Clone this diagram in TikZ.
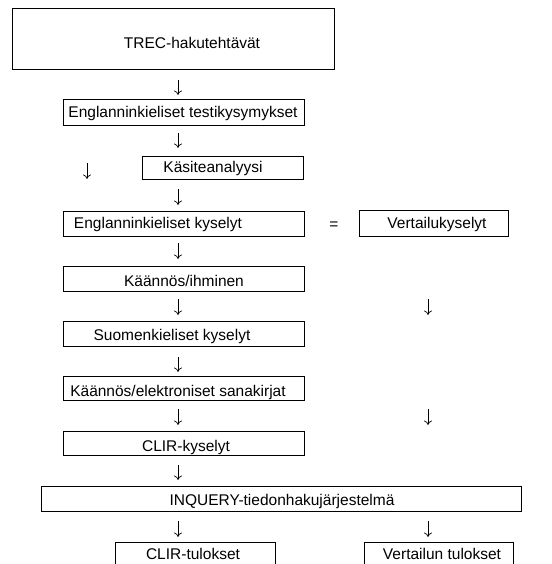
\documentclass[tikz,border=0pt]{standalone}
\usepackage{fontspec}
\setmainfont{Liberation Sans}
\usetikzlibrary{arrows.meta}
\begin{document}
\begin{tikzpicture}[x=1pt,y=-1pt,
  box/.style={draw,line width=0.7pt,inner sep=0pt},
  txt/.style={font=\fontsize{15.5}{17}\selectfont,inner sep=0pt},
  darr/.style={-{To[length=4.5pt,width=8pt]},line width=0.7pt}]
\useasboundingbox (0,0) rectangle (551,564);
\clip (0,0) rectangle (551,564);
% boxes
\node[box,minimum width=322pt,minimum height=61pt] (b1) at (173,38.5) {};
\node[txt] (t1) at (192,43) {TREC-hakutehtävät};
\node[box,minimum width=241pt,minimum height=26pt] (b2) at (183.5,112) {};
\node[txt] (t2) at (183,113) {Englanninkieliset testikysymykset};
\node[box,minimum width=161pt,minimum height=23pt] (b3) at (222.5,167.5) {};
\node[txt] (t3) at (213,168) {Käsiteanalyysi};
\node[box,minimum width=241pt,minimum height=25pt] (b4) at (183.5,223.5) {};
\node[txt] (t4) at (158,224) {Englanninkieliset kyselyt};
\node[box,minimum width=149pt,minimum height=26pt] (b5) at (433.5,223) {};
\node[txt] (t5) at (437,224) {Vertailukyselyt};
\node[box,minimum width=241pt,minimum height=25pt] (b6) at (183.5,278.5) {};
\node[txt] (t6) at (184,281) {Käännös/ihminen};
\node[box,minimum width=241pt,minimum height=25pt] (b7) at (183.5,333.5) {};
\node[txt] (t7) at (172,336) {Suomenkieliset kyselyt};
\node[box,minimum width=241pt,minimum height=24pt] (b8) at (183.5,388) {};
\node[txt] (t8) at (178,392) {Käännös/elektroniset sanakirjat};
\node[box,minimum width=241pt,minimum height=24pt] (b9) at (183.5,443) {};
\node[txt] (t9) at (186,447) {CLIR-kyselyt};
\node[box,minimum width=480pt,minimum height=25pt] (b10) at (281,498.5) {};
\node[txt] (t10) at (282,501) {INQUERY-tiedonhakujärjestelmä};
\node[box,minimum width=160pt,minimum height=40pt] (b11) at (195,562) {};
\node[txt] (t11) at (193,554) {CLIR-tulokset};
\node[box,minimum width=149pt,minimum height=40pt] (b12) at (438.5,562) {};
\node[txt] (t12) at (442,554) {Vertailun tulokset};
\node[txt] (eq) at (334,226) {=};
% arrow end points
\coordinate (a1s) at (178,80);  \coordinate (a1e) at (178,95);
\coordinate (a2s) at (178,133); \coordinate (a2e) at (178,148);
\coordinate (aLs) at (87,163);  \coordinate (aLe) at (87,179);
\coordinate (a3s) at (178,189); \coordinate (a3e) at (178,205);
\coordinate (a4s) at (178,243); \coordinate (a4e) at (178,259);
\coordinate (a5s) at (178,299); \coordinate (a5e) at (178,315);
\coordinate (a5rs) at (428,299); \coordinate (a5re) at (428,315);
\coordinate (a6s) at (178,357); \coordinate (a6e) at (178,372);
\coordinate (a7s) at (178,409); \coordinate (a7e) at (178,425);
\coordinate (a7rs) at (428,409); \coordinate (a7re) at (428,425);
\coordinate (a8s) at (178,465); \coordinate (a8e) at (178,480);
\coordinate (a9s) at (178,521); \coordinate (a9e) at (178,537);
\coordinate (a9rs) at (428,521); \coordinate (a9re) at (428,537);
\foreach \a in {a1,a2,aL,a3,a4,a5,a5r,a6,a7,a7r,a8,a9,a9r}
  \draw[darr] (\a s) -- (\a e);
\end{tikzpicture}
\end{document}
